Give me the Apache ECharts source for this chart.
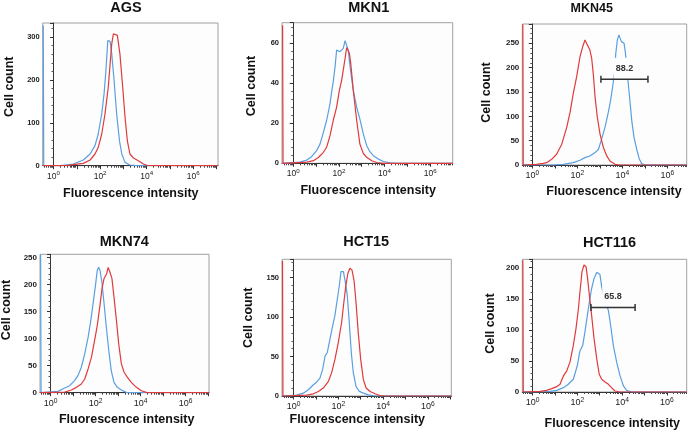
<!DOCTYPE html>
<html><head><meta charset="utf-8">
<script src="https://cdn.jsdelivr.net/npm/echarts@6/dist/echarts.min.js"></script>
<style>html,body{margin:0;padding:0;background:#fff}#c{width:696px;height:432px}</style>
</head><body><div id="c"></div>
<script>
// ---------- data (x = log10 fluorescence intensity, y = cell count) ----------
const panelTitles = ['AGS', 'MKN1', 'MKN45', 'MKN74', 'HCT15', 'HCT116'];
const decadeLabels = [0, 2, 4, 6];
const decadeTicks = [0, 1, 2, 3, 4, 5, 6, 7];
const yIntervals = [100, 20, 50, 50, 50, 50];
const yMaxValues = [333, 70.3, 289.6, 256.3, 173.3, 213.5];
const xMinDecades = [-0.464, -0.496, -0.444, -0.467, -0.513, -0.455];
const xMaxDecades = [7.06, 6.99, 6.862, 7.044, 7.045, 6.884];

const agsBlue = [[-0.44,327],[-0.42,0],[0.28,0],[0.85,3.9],[1.28,13.3],[1.57,27.3],[1.78,46.8],[1.92,74],[2.07,120.8],[2.17,167.6],[2.25,222],[2.33,292],[2.43,290],[2.5,261],[2.6,198.8],[2.71,120.8],[2.83,58.5],[2.93,27.3],[3.07,7.8],[3.28,1.6],[3.57,0],[7.06,0]];
const agsRed = [[-0.46,0],[0.57,0],[0.85,2.3],[1.28,5.5],[1.57,13.3],[1.78,27.3],[1.92,42.9],[2.07,74],[2.21,120.8],[2.35,183],[2.43,237.7],[2.5,284.5],[2.57,307.9],[2.64,312],[2.74,304],[2.85,261],[2.97,183],[3.07,113],[3.17,58],[3.28,27.3],[3.43,18],[3.64,11.7],[3.86,3.9],[4.07,0],[7.06,0]];

const mkn1Blue = [[-0.49,0],[0.29,0.6],[0.59,1.6],[0.8,3.3],[1.02,6.3],[1.17,9.6],[1.32,15.5],[1.46,21.4],[1.61,29.8],[1.68,35.6],[1.75,40.7],[1.83,48.2],[1.9,56.6],[1.97,57],[2.05,55.8],[2.12,56.3],[2.19,57.5],[2.27,61.3],[2.34,61.7],[2.41,56.6],[2.49,48.2],[2.63,36.5],[2.78,28],[2.92,22.1],[3.07,14.7],[3.22,8.8],[3.36,5.8],[3.51,3.8],[3.73,2.1],[3.95,0.9],[4.24,0.2],[4.53,0],[6.99,0]];
const mkn1Red = [[-0.47,69],[-0.45,0],[0.59,0.6],[0.88,1.3],[1.1,2.9],[1.32,5.5],[1.46,8],[1.61,13.8],[1.75,21.4],[1.9,28.1],[2.02,36.5],[2.12,41.5],[2.19,46.6],[2.27,52.4],[2.34,57.9],[2.4,58.6],[2.46,55],[2.52,49.9],[2.63,36.5],[2.78,21.4],[2.92,9.6],[3.07,4.9],[3.22,3.0],[3.44,1.3],[3.66,0.4],[3.95,0],[6.99,0]];

const mkn45Blue = [[-0.44,0],[0.94,0],[1.38,1.4],[1.82,4.8],[2.12,9.7],[2.34,15.2],[2.56,18.6],[2.79,25.5],[2.94,32.4],[3.08,53.2],[3.23,77.3],[3.38,108.4],[3.48,132.6],[3.57,160.2],[3.65,187.8],[3.71,229.2],[3.78,256.8],[3.85,267.2],[3.9,265],[3.96,253.4],[4.02,251.3],[4.08,249.9],[4.14,229.2],[4.22,187.8],[4.31,146.4],[4.42,91.1],[4.52,56.6],[4.64,32.4],[4.76,11.7],[4.86,2.8],[5.01,0],[6.86,0]];
const mkn45Red = [[-0.42,289],[-0.4,0],[0.19,1.4],[0.49,3.5],[0.64,4.8],[0.86,11.7],[1.08,22.1],[1.31,42.8],[1.53,77.3],[1.68,108.4],[1.82,146.4],[1.97,180.9],[2.12,222.3],[2.24,243],[2.34,256.8],[2.42,256.8],[2.49,243],[2.56,236.1],[2.64,218.8],[2.71,187.8],[2.79,139.5],[2.89,98.1],[3.01,63.5],[3.16,35.9],[3.31,18.6],[3.45,8.3],[3.68,1.4],[3.9,0],[6.86,0]];
const mkn45Gate = [[3.05, 5.14, 176]];
const mkn45GateLabel = ['88.2'];

const mkn74Blue = [[-0.44,256],[-0.42,0],[0.33,2.5],[0.63,8.7],[0.85,13],[1.07,22.3],[1.22,31.6],[1.37,47.1],[1.52,71.9],[1.67,102.4],[1.79,133.4],[1.89,164.4],[1.99,196.1],[2.08,226.9],[2.14,232.1],[2.2,226.9],[2.29,202.2],[2.38,165.1],[2.48,121.6],[2.59,78.2],[2.7,40.9],[2.82,19.2],[2.97,9.9],[3.15,5],[3.37,0.6],[3.59,0],[7.04,0]];
const mkn74Red = [[-0.47,0],[0.63,1.2],[0.93,5],[1.15,9.9],[1.37,16.1],[1.52,25.4],[1.67,44],[1.82,65.8],[1.96,96.8],[2.08,124.7],[2.19,158.9],[2.29,193],[2.38,211.6],[2.5,220.9],[2.56,232.1],[2.62,225.9],[2.67,224],[2.73,211.6],[2.82,177.5],[2.93,134],[3.03,90.6],[3.15,53.3],[3.27,37.8],[3.42,28.5],[3.59,19.2],[3.82,9.9],[4.04,3.7],[4.26,0.6],[4.41,0],[7.04,0]];

const hct15Blue = [[-0.51,0],[0.14,1.1],[0.44,3.6],[0.66,7.9],[0.89,14.3],[1.03,17.5],[1.18,22.7],[1.3,33.4],[1.41,50.9],[1.51,55.2],[1.63,72.3],[1.75,89.3],[1.85,102.2],[1.96,123.6],[2.05,140.7],[2.12,157.8],[2.17,159.9],[2.23,157.8],[2.31,144.9],[2.4,127.8],[2.49,93.6],[2.58,55.2],[2.67,29.5],[2.79,12.2],[2.94,5.8],[3.12,3.6],[3.34,1.5],[3.64,0],[7.05,0]];
const hct15Red = [[-0.49,171],[-0.47,0],[0.59,1.1],[0.89,2.8],[1.11,5.8],[1.33,10.1],[1.56,18.6],[1.7,29.3],[1.85,46.4],[2,67.8],[2.15,93.5],[2.25,119.2],[2.34,140.6],[2.43,155.6],[2.52,162],[2.61,159.9],[2.7,147],[2.79,119.2],[2.89,80.7],[3,46.4],[3.12,20.7],[3.24,10.1],[3.42,5.8],[3.64,2.8],[3.86,0.6],[4.09,0],[7.05,0]];

const hct116Blue = [[-0.45,0],[0.34,0],[0.78,1.1],[1.08,2.7],[1.38,7],[1.6,12.4],[1.82,20.5],[2,42.2],[2.12,66.5],[2.24,74.6],[2.34,96.2],[2.45,123.3],[2.54,144.9],[2.64,166.5],[2.75,182.8],[2.87,192.5],[2.95,193.6],[3.01,189.2],[3.09,169.2],[3.19,153],[3.28,141.9],[3.39,131],[3.49,107],[3.61,74.6],[3.76,47.6],[3.91,25.9],[4.06,9.7],[4.2,2.7],[4.43,0],[6.88,0]];
const hct116Red = [[-0.43,212],[-0.41,0],[0.34,1.1],[0.63,2.7],[0.86,5.4],[1.08,8.6],[1.23,12.4],[1.38,25.9],[1.53,34.1],[1.67,47.6],[1.82,74.6],[1.94,101.6],[2.05,134],[2.12,161.2],[2.21,193.6],[2.3,204.4],[2.39,201.6],[2.46,182.8],[2.54,155.7],[2.64,123.3],[2.75,85.4],[2.87,53],[2.98,28.6],[3.09,20.5],[3.24,16.2],[3.39,12.4],[3.53,7],[3.68,1.6],[3.91,0],[6.88,0]];
const hct116Gate = [[2.61, 4.58, 136]];
const hct116GateLabel = ['65.8'];

const blueCurves = [agsBlue, mkn1Blue, mkn45Blue, mkn74Blue, hct15Blue, hct116Blue];
const redCurves = [agsRed, mkn1Red, mkn45Red, mkn74Red, hct15Red, hct116Red];
const gateData = [null, null, mkn45Gate, null, null, hct116Gate];
const gateLabels = [null, null, mkn45GateLabel, null, null, hct116GateLabel];

// ---------- layout (pixels) ----------
const gridBoxes = [[42.7,23,175.3,142.7],[282,22.7,170.7,140.6],[522.3,24,164.4,141],[40,254.3,169,138.4],[282,259.3,169.3,136.7],[522.3,259.3,164.4,132.7]];
const titlePos = [[126,8.3,14.5],[368.7,8.3,14.5],[591.8,8.3,12.5],[124.3,242,14.5],[366.2,242,14.5],[609.5,243,14.5]];
const yNamePos = [[10,86.7],[252,86],[486.3,92.5],[6.7,310],[248.7,317.7],[490.7,323.5]];
const xNamePos = [[130.8,194],[368.2,190.8],[614,191.7],[126.7,420],[357.3,420],[612.3,423.5]];
const yLabelSize = [7.5,7.5,8,8,7.5,8];
const xLabelSize = [8.5,8.5,9,9,9,9];

const FONT = '"Liberation Sans", Arial, sans-serif';
const RED = '#e03a3c';
const BLUE = '#5a9fe2';

function minorDecades(lo, hi) {
  const out = [];
  for (let n = -1; n <= 7; n++) for (let k = 2; k <= 9; k++) {
    const v = n + Math.log10(k);
    if (v > lo && v < hi) out.push(v);
  }
  return out;
}

const grid = [], xAxis = [], yAxis = [], series = [], graphic = [];
for (let i = 0; i < 6; i++) {
  const [l, t, w, h] = gridBoxes[i];
  grid.push({left: l, top: t, width: w, height: h, show: true, borderColor: '#a0a0a0', borderWidth: 1, backgroundColor: '#fdfdfd'});
  const lo = xMinDecades[i], hi = xMaxDecades[i];
  xAxis.push({
    type: 'value', gridIndex: i, min: lo, max: hi, position: 'bottom',
    axisLine: {show: true, lineStyle: {color: '#333', width: 1}},
    axisTick: {show: true, length: 3.5, lineStyle: {color: '#333'}, customValues: decadeTicks.filter(v => v >= lo && v <= hi)},
    axisLabel: {
      show: true, margin: 5, customValues: decadeLabels,
      formatter: v => '{b|10}{s|' + Math.round(v) + '}',
      rich: {
        b: {fontSize: xLabelSize[i], fontFamily: FONT, color: '#222', lineHeight: 10, verticalAlign: 'bottom'},
        s: {fontSize: xLabelSize[i] - 2.3, fontFamily: FONT, color: '#222', lineHeight: 7, verticalAlign: 'top'}
      }
    },
    splitLine: {show: false}
  });
  xAxis.push({
    type: 'value', gridIndex: i, min: lo, max: hi, position: 'bottom',
    axisLine: {show: false},
    axisTick: {show: true, length: 2, lineStyle: {color: '#444'}, customValues: minorDecades(lo, hi)},
    axisLabel: {show: false},
    splitLine: {show: false}
  });
  const iv = yIntervals[i];
  yAxis.push({
    type: 'value', gridIndex: i, min: 0, max: yMaxValues[i], interval: iv,
    axisLine: {show: true, lineStyle: {color: '#333', width: 1}},
    axisTick: {show: true, length: 3.5, lineStyle: {color: '#333'}},
    minorTick: {show: true, splitNumber: 5, length: 2, lineStyle: {color: '#555'}},
    axisLabel: {
      margin: 3, fontSize: yLabelSize[i], fontWeight: 'bold', fontFamily: FONT, color: '#222',
      showMaxLabel: false,
      formatter: v => (Math.abs(v / iv - Math.round(v / iv)) < 1e-6 ? String(v) : '')
    },
    splitLine: {show: false}
  });
  series.push({
    type: 'line', xAxisIndex: 2 * i, yAxisIndex: i, data: blueCurves[i], showSymbol: false,
    lineStyle: {color: BLUE, width: 1.2}, itemStyle: {color: BLUE}, z: 3, silent: true
  });
  series.push({
    type: 'line', xAxisIndex: 2 * i, yAxisIndex: i, data: redCurves[i], showSymbol: false,
    lineStyle: {color: RED, width: 1.2}, itemStyle: {color: RED}, z: 4, silent: true
  });
  if (gateData[i]) {
    const labels = gateLabels[i];
    series.push({
      type: 'custom', xAxisIndex: 2 * i, yAxisIndex: i, data: gateData[i], z: 10, silent: true,
      encode: {x: [0, 1], y: 2},
      renderItem: (params, api) => {
        const a = api.coord([api.value(0), api.value(2)]);
        const b = api.coord([api.value(1), api.value(2)]);
        const y = a[1];
        const cx = (a[0] + b[0]) / 2;
        const st = {stroke: '#333', lineWidth: 1.5};
        return {type: 'group', children: [
          {type: 'text', x: cx, y: y - 10.5, style: {text: labels[params.dataIndex], fill: '#333', font: 'bold 9px ' + FONT, align: 'center', verticalAlign: 'middle', backgroundColor: '#fdfdfd', padding: [11, 2, 2, 2]}},
          {type: 'line', shape: {x1: a[0], y1: y, x2: b[0], y2: y}, style: st},
          {type: 'line', shape: {x1: a[0], y1: y - 3.5, x2: a[0], y2: y + 3.5}, style: st},
          {type: 'line', shape: {x1: b[0], y1: y - 3.5, x2: b[0], y2: y + 3.5}, style: st}
        ]};
      }
    });
  }
  graphic.push({type: 'text', x: titlePos[i][0], y: titlePos[i][1], style: {text: panelTitles[i], font: 'bold ' + titlePos[i][2] + 'px ' + FONT, fill: '#111', align: 'center', verticalAlign: 'middle'}});
  graphic.push({type: 'text', x: yNamePos[i][0], y: yNamePos[i][1], rotation: Math.PI / 2, style: {text: 'Cell count', font: 'bold 12.5px ' + FONT, fill: '#111', align: 'center', verticalAlign: 'middle'}});
  graphic.push({type: 'text', x: xNamePos[i][0], y: xNamePos[i][1], style: {text: 'Fluorescence intensity', font: 'bold 12.5px ' + FONT, fill: '#111', align: 'center', verticalAlign: 'middle'}});
}

const chart = echarts.init(document.getElementById('c'), null, {renderer: 'canvas'});
chart.setOption({animation: false, backgroundColor: '#fff', grid, xAxis, yAxis, series, graphic});
</script>
</body></html>
